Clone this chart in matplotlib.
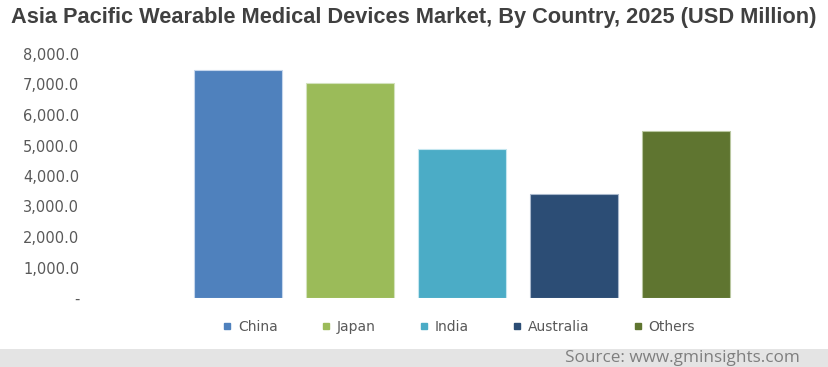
import matplotlib
matplotlib.use("Agg")
import matplotlib.pyplot as plt
from matplotlib.patches import Rectangle
from matplotlib.lines import Line2D
from matplotlib.ticker import FuncFormatter

countries = ["China", "Japan", "India", "Australia", "Others"]
values = [7480, 7060, 4880, 3400, 5480]
colors = ["#4F81BD", "#9BBB59", "#4BACC6", "#2C4D75", "#5F7530"]
edges = ["#c5d6ec", "#d3e2bd", "#c4e6ef", "#a9b8cc", "#b9c7a0"]
yticks = [0, 1000, 2000, 3000, 4000, 5000, 6000, 7000, 8000]

W, H = 829, 367
fig = plt.figure(figsize=(W / 100, H / 100), dpi=100)
fig.patch.set_facecolor("white")

# plot area in pixel coordinates
left, right, top, bottom = 182, 742, 54, 298
ax = fig.add_axes([left / W, 1 - bottom / H, (right - left) / W, (bottom - top) / H])

x = range(len(countries))
ax.bar(x, values, width=0.785, color=colors, edgecolor=edges, linewidth=0.8, zorder=2)
ax.set_xlim(-0.5, len(countries) - 0.5)
ax.set_ylim(0, 8000)
ax.set_yticks(yticks)
ax.yaxis.set_major_formatter(FuncFormatter(lambda v, p: "-" if v == 0 else f"{v:,.1f}"))
ax.tick_params(axis="y", length=0, pad=74, labelsize=10.5, labelcolor="#595959")
for lbl in ax.get_yticklabels():
    lbl.set_fontfamily("DejaVu Sans")
ax.set_xticks([])
for s in ax.spines.values():
    s.set_visible(False)

# title
fig.text(11 / W, 1 - 18 / H, "Asia Pacific Wearable Medical Devices Market, By Country, 2025 (USD Million)",
         fontsize=15.7, fontweight="bold", color="#404040", family="Liberation Sans",
         ha="left", va="center")

# legend
handles = [Line2D([], [], marker="s", linestyle="none", markersize=5,
                  markerfacecolor=c, markeredgecolor=c) for c in colors]
fig.legend(handles, countries, loc="center", bbox_to_anchor=(459 / W, 1 - 327 / H),
           ncol=5, frameon=False, labelcolor="#595959",
           handlelength=0.6, handletextpad=0.45, columnspacing=3.2,
           prop={"family": "DejaVu Sans", "size": 10})

# source footer band
fig.patches.append(Rectangle((0, 0), 1, (H - 349) / H, transform=fig.transFigure,
                             facecolor="#e4e4e4", edgecolor="none", zorder=0))
fig.text(800 / W, 1 - 358 / H, "Source: www.gminsights.com", fontsize=12.3,
         color="#7f7f7f", family="Open Sans", ha="right", va="center")

fig.savefig("out.png", dpi=100)
